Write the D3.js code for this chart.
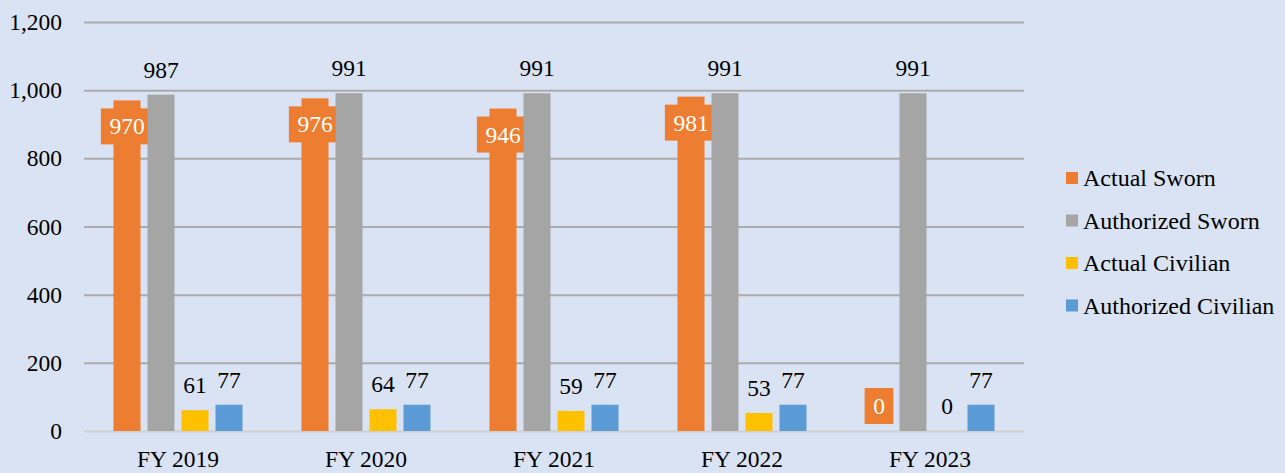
<!DOCTYPE html>
<html>
  <head>
    <meta charset="utf-8">
    <title>Sworn and civilian staffing</title>
    <script type="text/javascript" src="https://d3js.org/d3.v7.min.js"></script>
    <style>
      body { margin: 0; background: #dae3f3; }
    </style>
  </head>

  <body>
    <script>

    var years = ["FY 2019", "FY 2020", "FY 2021", "FY 2022", "FY 2023"];
    var seriesNames = ["Actual Sworn", "Authorized Sworn", "Actual Civilian", "Authorized Civilian"];
    var actualSworn = [970, 976, 946, 981, 0];
    var authorizedSworn = [987, 991, 991, 991, 991];
    var actualCivilian = [61, 64, 59, 53, 0];
    var authorizedCivilian = [77, 77, 77, 77, 77];
    var yTicks = [0, 200, 400, 600, 800, 1000, 1200];

    var colors = ["#ed7d31", "#a5a5a5", "#ffc000", "#5b9bd5"];
    var seriesValues = [actualSworn, authorizedSworn, actualCivilian, authorizedCivilian];
    var font = "'Liberation Serif', 'Times New Roman', Times, serif";
    var fontSize = 23.5;

    var width = 1285, height = 473;
    var plot = {left: 84, right: 1024, top: 22, bottom: 431};   // plot area

    var svg = d3.select("body")
                .append("svg")
                .attr("width", width)
                .attr("height", height);

    svg.append("rect")
       .attr("width", width)
       .attr("height", height)
       .attr("fill", "#dae3f3");

    var x0 = d3.scaleBand()
               .domain(years)
               .range([plot.left, plot.right]);

    var x1 = d3.scaleBand()
               .domain(seriesNames)
               .range([0, 129])
               .paddingInner(7 / 34);                 // 27px bars, 7px gaps

    var y = d3.scaleLinear()
              .domain([0, 1200])
              .range([plot.bottom, plot.top]);

    // gridlines + y tick labels
    var yAxis = d3.axisLeft(y)
                  .tickValues(yTicks)
                  .tickSize(-(plot.right - plot.left))
                  .tickPadding(22)
                  .tickFormat(d3.format(","));

    var gy = svg.append("g")
                .attr("transform", "translate(" + plot.left + ",0)")
                .call(yAxis);
    gy.attr("font-family", null).attr("font-size", null);
    gy.select(".domain").remove();
    gy.selectAll(".tick line")
      .attr("stroke", function(d) { return d === 0 ? "#d0d0d0" : "#ababab"; })
      .attr("stroke-width", 2);
    gy.selectAll(".tick text")
      .attr("font-family", font)
      .attr("font-size", fontSize)
      .attr("fill", "#000");

    // x labels
    var xAxis = d3.axisBottom(x0).tickSize(0).tickPadding(19);
    var gx = svg.append("g")
                .attr("transform", "translate(0," + plot.bottom + ")")
                .call(xAxis);
    gx.attr("font-family", null).attr("font-size", null);
    gx.select(".domain").remove();
    gx.selectAll(".tick text")
      .attr("font-family", font)
      .attr("font-size", fontSize)
      .attr("fill", "#000");

    var groupOffset = (x0.bandwidth() - 129) / 2;

    var groups = svg.selectAll(".year")
                    .data(years)
                    .enter()
                      .append("g")
                      .attr("class", "year")
                      .attr("transform", function(d) { return "translate(" + (x0(d) + groupOffset) + ",0)"; });

    var cells = groups.selectAll(".cell")
                      .data(function(d, i) {
                        return seriesNames.map(function(s, k) { return {series: s, k: k, value: seriesValues[k][i]}; });
                      })
                      .enter()
                        .append("g")
                        .attr("class", "cell");

    cells.append("rect")
         .attr("x", function(d) { return x1(d.series); })
         .attr("y", function(d) { return y(d.value); })
         .attr("width", x1.bandwidth())
         .attr("height", function(d) { return y(0) - y(d.value); })
         .attr("fill", function(d) { return colors[d.k]; });

    // outside-end labels for the other series
    cells.filter(function(d) { return d.k !== 0; })
         .append("text")
         .attr("x", function(d) { return x1(d.series) + x1.bandwidth() / 2; })
         .attr("y", function(d) { return y(d.value) - 17; })
         .attr("text-anchor", "middle")
         .attr("font-family", font)
         .attr("font-size", fontSize)
         .attr("fill", "#000")
         .text(function(d) { return d.value; });

    // boxed labels for actual sworn
    var boxed = cells.filter(function(d) { return d.k === 0; });
    var boxH = 36;
    boxed.each(function(d) {
      var g = d3.select(this);
      var cx = x1(d.series) + x1.bandwidth() / 2;
      var t = g.append("text")
               .attr("x", cx)
               .attr("text-anchor", "middle")
               .attr("font-family", font)
               .attr("font-size", fontSize)
               .attr("fill", "#fff")
               .text(d.value);
      var w = t.node().getComputedTextLength() + 17;
      var top = Math.min(y(d.value) + 8, plot.bottom - 7 - boxH);
      g.insert("rect", "text")
       .attr("x", cx - w / 2)
       .attr("y", top)
       .attr("width", w)
       .attr("height", boxH)
       .attr("fill", colors[0]);
      t.attr("y", top + boxH / 2 + 8);
    });

    // legend
    var legend = svg.selectAll(".legend")
                    .data(seriesNames)
                    .enter()
                      .append("g")
                      .attr("class", "legend")
                      .attr("transform", function(d, i) { return "translate(1066," + (178 + i * 42.5) + ")"; });

    legend.append("rect")
          .attr("y", -6)
          .attr("width", 12)
          .attr("height", 12)
          .attr("fill", function(d, i) { return colors[i]; });

    legend.append("text")
          .attr("x", 17)
          .attr("y", 8)
          .attr("font-family", font)
          .attr("font-size", 24)
          .attr("fill", "#000")
          .text(function(d) { return d; });

  </script>
  </body>
</html>
